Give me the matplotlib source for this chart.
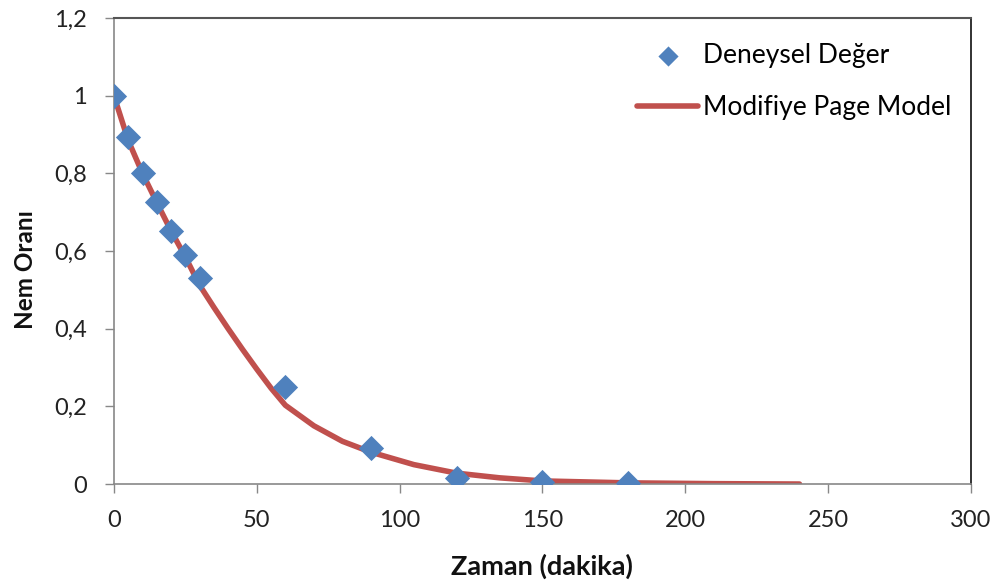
import numpy as np
import matplotlib.pyplot as plt

plt.rcParams['font.family'] = ['Lato', 'DejaVu Sans']

# deneysel veriler
zaman = [0, 5, 10, 15, 20, 25, 30, 60, 90, 120, 150, 180]
nem_orani = [1.0, 0.893, 0.802, 0.727, 0.653, 0.591, 0.530, 0.249, 0.093, 0.016, 0.006, 0.003]

# modifiye page model egrisi
model_zaman = [0, 5, 10, 15, 20, 25, 30, 35, 40, 45, 50, 55, 60, 70, 80, 90,
               105, 120, 135, 150, 180, 210, 240]
model_nem = [1.0, 0.885, 0.800, 0.725, 0.652, 0.585, 0.512, 0.455, 0.400, 0.347,
             0.296, 0.247, 0.203, 0.150, 0.110, 0.082, 0.050, 0.028, 0.016,
             0.008, 0.003, 0.001, 0.0]

x_ticks = [0, 50, 100, 150, 200, 250, 300]
y_ticks = [0, 0.2, 0.4, 0.6, 0.8, 1.0, 1.2]
y_labels = ['0', '0,2', '0,4', '0,6', '0,8', '1', '1,2']

fig = plt.figure(figsize=(10.04, 5.86), dpi=100)
ax = fig.add_axes([0.1135, 0.174, 0.8535, 0.795])

ax.plot(model_zaman, model_nem, color='#C0504D', lw=4, solid_capstyle='round',
        solid_joinstyle='round', label='Modifiye Page Model', zorder=2)
ax.scatter(zaman, nem_orani, marker='D', s=165, color='#4F81BD', linewidths=0,
           label='Deneysel Değer', zorder=3)

ax.set_xlim(0, 300)
ax.set_ylim(0, 1.2)
ax.set_xticks(x_ticks)
ax.set_xticklabels([str(t) for t in x_ticks])
ax.set_yticks(y_ticks)
ax.set_yticklabels(y_labels)
ax.tick_params(axis='both', direction='out', length=6.5, width=1, color='#888888',
               labelsize=17, labelcolor='#222222')
ax.tick_params(axis='x', pad=12)
ax.tick_params(axis='y', pad=13)

for side in ['left', 'bottom']:
    ax.spines[side].set_color('#888888')
    ax.spines[side].set_linewidth(1.2)
ax.spines['top'].set_color('#555555')
ax.spines['top'].set_linewidth(1.5)
ax.spines['right'].set_color('#222222')
ax.spines['right'].set_linewidth(1.3)

# eksen basliklari
fig.text(542 / 1004, 1 - 575 / 586, 'Zaman (dakika)', fontsize=19.5, fontweight='bold',
         ha='center', va='baseline', color='#111111')
fig.text(33 / 1004, 1 - 270 / 586, 'Nem Oranı', fontsize=17.5, fontweight='bold',
         ha='center', va='baseline', rotation=90, rotation_mode='anchor', color='#111111')

handles, labels = ax.get_legend_handles_labels()
ax.legend(handles[::-1], labels[::-1], loc='upper right', bbox_to_anchor=(0.99, 0.97),
          borderaxespad=0, frameon=False, fontsize=19, handlelength=2.3,
          handletextpad=0.2, labelspacing=1.05, markerscale=0.8)

fig.savefig('out.png', dpi=100)
